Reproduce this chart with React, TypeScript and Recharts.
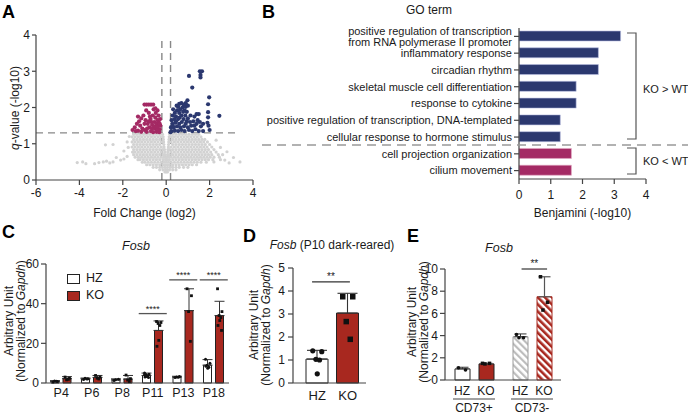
import React from "react";
import {
  ScatterChart,
  Scatter,
  XAxis,
  YAxis,
  ReferenceLine,
  BarChart,
  Bar,
  Cell,
  ComposedChart,
  ErrorBar,
  Legend,
} from "recharts";

const FONT = '"Liberation Sans", Arial, Helvetica, sans-serif';
const INK = "#1a1a1a";
const AXIS = "#444";
const NAVY = "#2b386f";
const MAGENTA = "#a42a64";
const RED = "#a8281f";
const GRAY = "#d2d2d2";

// ---------- A: volcano (fold change log2 vs q-value -log10)
// gray genes, read row by row: [q, fold changes]
const grayRows: [number, number[]][] = [
  [1.26, [-1.5, -1.35, -1.2, -1.05, -0.9, -0.75, -0.6, -0.45, -0.3, -0.17, 0.17, 0.3, 0.45, 0.6, 0.75, 0.9, 1.05, 1.2, 1.35, 1.5]],
  [1.19, [-1.57, -1.43, -1.28, -1.13, -0.98, -0.83, -0.68, -0.53, -0.38, -0.24, -0.14, 0.14, 0.24, 0.38, 0.53, 0.68, 0.83, 0.98, 1.13, 1.28, 1.43, 1.6]],
  [1.12, [-1.5, -1.35, -1.2, -1.05, -0.9, -0.75, -0.6, -0.45, -0.3, -0.13, 0.13, 0.3, 0.45, 0.6, 0.75, 0.9, 1.05, 1.2, 1.35, 1.5, 1.65, 1.78]],
  [1.05, [-1.57, -1.43, -1.28, -1.13, -0.98, -0.83, -0.68, -0.53, -0.38, -0.23, -0.12, 0.12, 0.23, 0.38, 0.53, 0.68, 0.83, 0.98, 1.13, 1.28, 1.43, 1.58, 1.73, 1.9]],
  [0.98, [-1.5, -1.35, -1.2, -1.05, -0.9, -0.75, -0.6, -0.45, -0.3, -0.11, 0.11, 0.3, 0.45, 0.6, 0.75, 0.9, 1.05, 1.2, 1.35, 1.5, 1.65, 1.8, 2.0]],
  [0.91, [-1.57, -1.43, -1.28, -1.13, -0.98, -0.83, -0.68, -0.53, -0.38, -0.23, -0.1, 0.1, 0.23, 0.38, 0.53, 0.68, 0.83, 0.98, 1.13, 1.28, 1.43, 1.58, 1.73, 1.88, 2.1]],
  [0.84, [-1.5, -1.35, -1.2, -1.05, -0.9, -0.75, -0.6, -0.45, -0.3, -0.16, -0.08, 0.08, 0.16, 0.3, 0.45, 0.6, 0.75, 0.9, 1.05, 1.2, 1.35, 1.5, 1.65, 1.8, 1.95, 2.2]],
  [0.77, [-1.55, -1.43, -1.28, -1.13, -0.98, -0.83, -0.68, -0.53, -0.38, -0.23, -0.07, 0.07, 0.23, 0.38, 0.53, 0.68, 0.83, 0.98, 1.13, 1.28, 1.43, 1.58, 1.73, 1.88, 2.05, 2.3]],
  [0.7, [-1.5, -1.35, -1.2, -1.05, -0.9, -0.75, -0.6, -0.45, -0.3, -0.15, -0.06, 0.06, 0.15, 0.3, 0.45, 0.6, 0.75, 0.9, 1.05, 1.2, 1.35, 1.5, 1.65, 1.8, 1.95, 2.1, 2.4]],
  [0.63, [-1.43, -1.28, -1.13, -0.98, -0.83, -0.68, -0.53, -0.38, -0.23, -0.11, -0.04, 0.04, 0.11, 0.23, 0.38, 0.53, 0.68, 0.83, 0.98, 1.13, 1.28, 1.43, 1.58, 1.73, 1.88, 2.03, 2.2, 2.45]],
  [0.56, [-1.3, -1.2, -1.05, -0.9, -0.75, -0.6, -0.45, -0.3, -0.15, -0.03, 0.03, 0.15, 0.3, 0.45, 0.6, 0.75, 0.9, 1.05, 1.2, 1.35, 1.5, 1.65, 1.8, 1.95, 2.15, 2.5]],
  [0.49, [-1.1, -0.98, -0.83, -0.68, -0.53, -0.38, -0.23, -0.1, 0, 0.1, 0.23, 0.38, 0.53, 0.68, 0.83, 0.98, 1.13, 1.28, 1.43, 1.6, 1.85]],
  [0.42, [-0.9, -0.75, -0.6, -0.45, -0.3, -0.15, -0.05, 0.05, 0.15, 0.3, 0.45, 0.6, 0.75, 0.9, 1.05, 1.2, 1.4]],
  [0.35, [-0.6, -0.45, -0.3, -0.18, -0.06, 0.06, 0.18, 0.3, 0.45, 0.6, 0.8, 1.0]],
  [0.28, [-0.3, -0.15, -0.03, 0.03, 0.15, 0.3, 0.45]],
  [0.22, [-0.06, 0, 0.06]],
];
const grayOutliers: [number, number][] = [
  [-4.1, 0.48], [-3.85, 0.5], [-3.7, 0.45], [-3.3, 0.45], [-3.1, 0.48], [-2.9, 0.5], [-2.75, 0.52],
  [-2.6, 0.47], [-2.45, 0.5], [-2.3, 0.62], [-2.1, 0.55], [-1.95, 0.58], [-1.8, 0.65], [-2.8, 0.97],
  [-2.45, 0.98], [-1.8, 1.05], [-1.95, 0.8], [-1.75, 0.9], [-1.7, 1.2], [2.3, 1.1], [2.5, 0.9],
  [2.6, 0.7], [2.8, 0.78], [2.9, 0.47], [3.4, 0.5], [2.2, 0.5], [2.7, 0.55], [3.1, 0.62],
];
const downGenes: [number, number][] = [
  [-1.0, 2.08], [-0.9, 2.08], [-0.8, 2.08], [-0.7, 2.08], [-0.6, 2.08], [-1.3, 1.75], [-1.25, 1.62],
  [-1.55, 1.38], [-1.45, 1.45], [-1.4, 1.35], [-1.2, 1.5], [-1.1, 1.42], [-1.05, 1.78], [-0.95, 1.65],
  [-0.92, 1.92], [-0.85, 1.55], [-0.8, 1.85], [-0.78, 1.45], [-0.72, 1.68], [-0.7, 1.35], [-0.65, 1.52],
  [-0.62, 1.78], [-0.58, 1.95], [-0.55, 1.6], [-0.52, 1.42], [-0.5, 1.72], [-0.48, 1.85], [-0.45, 1.55],
  [-0.42, 1.35], [-0.4, 1.65], [-0.38, 1.48], [-0.35, 1.78], [-0.33, 1.58], [-0.3, 1.4], [-0.28, 1.68],
  [-0.27, 1.5], [-1.3, 1.36], [-1.15, 1.33], [-1.0, 1.38], [-0.9, 1.33], [-0.6, 1.32], [-0.45, 1.33],
  [-0.32, 1.32], [-1.35, 1.55], [-1.0, 1.55], [-0.88, 1.42], [-0.68, 1.6], [-0.55, 1.48], [-0.42, 1.45],
  [-0.36, 1.38], [-0.3, 1.55], [-0.4, 1.92], [-0.5, 1.98], [-0.75, 1.75], [-1.15, 1.7], [-0.65, 1.42],
  [-0.8, 1.62],
];
const upGenes: [number, number][] = [
  [1.55, 3.0], [1.65, 3.0], [1.58, 2.9], [1.58, 2.83], [1.05, 2.87], [1.2, 2.55], [1.98, 2.28],
  [1.93, 2.09], [1.93, 1.87], [1.93, 1.73], [2.45, 1.77], [1.9, 1.58], [1.95, 1.5], [2.0, 1.38],
  [1.4, 1.82], [1.5, 1.82], [1.3, 1.75], [1.25, 1.62], [1.1, 1.6], [0.98, 2.2], [0.9, 2.12],
  [0.6, 2.1], [0.7, 2.12], [0.8, 2.08], [0.55, 2.02], [0.75, 2.0], [0.5, 1.92], [0.65, 1.95],
  [0.85, 1.92], [0.4, 1.85], [0.6, 1.85], [0.95, 1.88], [0.3, 1.78], [0.45, 1.75], [0.7, 1.78],
  [0.88, 1.78], [0.25, 1.65], [0.38, 1.68], [0.55, 1.68], [0.8, 1.68], [1.0, 1.7], [0.28, 1.55],
  [0.42, 1.58], [0.6, 1.55], [0.72, 1.6], [0.9, 1.55], [0.22, 1.45], [0.35, 1.45], [0.5, 1.48],
  [0.65, 1.45], [0.82, 1.48], [1.0, 1.45], [1.15, 1.5], [0.25, 1.35], [0.4, 1.36], [0.55, 1.35],
  [0.7, 1.38], [0.85, 1.35], [1.05, 1.38], [1.2, 1.35], [1.35, 1.4], [1.5, 1.35], [1.3, 1.5],
  [0.32, 1.95], [0.48, 2.05], [0.95, 1.62], [1.12, 1.78], [1.4, 1.55], [1.6, 1.48], [1.7, 1.55],
  [0.62, 1.72], [0.78, 1.88], [0.45, 1.62], [0.3, 1.5], [0.9, 2.02], [1.0, 2.05], [1.45, 1.65],
  [1.55, 1.6], [0.2, 1.32], [1.7, 1.35],
];

// ---------- B: GO terms
const goTerms = [
  "positive regulation of transcription\nfrom RNA polymerase II promoter",
  "inflammatory response",
  "circadian rhythm",
  "skeletal muscle cell differentiation",
  "response to cytokine",
  "positive regulation of transcription, DNA-templated",
  "cellular response to hormone stimulus",
  "cell projection organization",
  "cilium movement",
];
const goScore = [3.2, 2.5, 2.5, 1.8, 1.8, 1.3, 1.3, 1.65, 1.65];
const goUp = [true, true, true, true, true, true, true, false, false];

// ---------- C: Fosb by age
const ages = ["P4", "P6", "P8", "P11", "P13", "P18"];
const cHz = [0.8, 2.1, 1.6, 3.8, 3.0, 9.0];
const cKo = [2.2, 2.8, 2.0, 26.5, 36.5, 34.0];
const cHzSd = [0.4, 0.4, 0.5, 1.2, 0.4, 2.8];
const cKoSd = [1.0, 1.0, 1.8, 4.8, 11.0, 7.2];
const cHzPts = [[0.5, 0.8, 1.0, 0.9], [1.8, 2.2, 2.4, 2.0], [1.2, 1.9, 1.6], [5.0, 4.4, 4.0, 3.6, 3.3, 3.0, 2.8, 4.2], [2.8, 3.3, 3.0, 2.9], [12.0, 10.0, 9.0, 8.0, 7.5, 8.5]];
const cKoPts = [[3.0, 2.5, 1.6, 1.8], [3.8, 3.0, 2.4, 2.0], [4.0, 2.2, 1.5, 0.8], [31.0, 30.5, 30.0, 29.0, 21.5, 18.5], [47.5, 44.0, 36.0, 21.0], [47.5, 36.0, 34.0, 33.0, 31.5, 29.0, 26.5]];

// ---------- D: Fosb P10 dark-reared
const dGenotypes = ["HZ", "KO"];
const dMean = [1.04, 3.04];
const dSd = [0.38, 0.86];
const dPts = [[1.4, 1.36, 1.03, 1.0, 0.4], [3.75, 3.75, 2.67, 1.9]];

// ---------- E: Fosb by CD73 sort
const eGroups = ["CD73+", "CD73-"];
const eHz = [1.0, 3.9];
const eKo = [1.45, 7.5];
const eHzSd = [0.15, 0.25];
const eKoSd = [0.05, 1.8];
const eHzPts = [[1.1, 0.9], [4.1, 3.8, 3.8]];
const eKoPts = [[1.5, 1.5, 1.45], [9.3, 7.0, 6.3]];

const tickStyle = { fontSize: 12, fill: INK };
const lineStyle = { stroke: AXIS, strokeWidth: 1.2 };
const ZIG = [-1, 1, -0.3, 0.5, 0, -0.8, 0.8];

const dot = (r: number, fill: string) => (p: any) =>
  p.cx == null ? <g /> : <circle cx={p.cx} cy={p.cy} r={r} fill={fill} />;
const square = (s: number, fill: string) => (p: any) =>
  p.cx == null ? <g /> : <rect x={p.cx - s / 2} y={p.cy - s / 2} width={s} height={s} fill={fill} />;

function spread(groups: number[][], center: (i: number) => number, pxPerUnit: number, halfPx: number) {
  return groups.flatMap((vals, i) =>
    vals.map((y, k) => ({ x: center(i) + (ZIG[k % ZIG.length] * halfPx) / pxPerUnit, y }))
  );
}

const volcanoGray = [
  ...grayRows.flatMap(([q, fcs]) => fcs.map((fc) => ({ fc, q }))),
  ...grayOutliers.map(([fc, q]) => ({ fc, q })),
];
const volcanoDown = downGenes.map(([fc, q]) => ({ fc, q }));
const volcanoUp = upGenes.map(([fc, q]) => ({ fc, q }));

function Volcano() {
  return (
    <ScatterChart width={262} height={225} margin={{ top: 35, right: 9, bottom: 0, left: 0 }}>
      <XAxis
        type="number"
        dataKey="fc"
        domain={[-6, 4]}
        ticks={[-6, -4, -2, 0, 2, 4]}
        height={45}
        tick={tickStyle}
        tickSize={5}
        tickMargin={3}
        axisLine={lineStyle}
        tickLine={lineStyle}
        label={{ value: "Fold Change (log2)", position: "insideBottom", offset: 8, style: { fontSize: 12, fill: INK } }}
      />
      <YAxis
        type="number"
        dataKey="q"
        domain={[0, 4]}
        ticks={[0, 1, 2, 3, 4]}
        width={36}
        tick={tickStyle}
        tickSize={4}
        tickMargin={2}
        axisLine={lineStyle}
        tickLine={lineStyle}
      />
      <Scatter data={volcanoGray} shape={dot(1.6, GRAY)} isAnimationActive={false} />
      <ReferenceLine segment={[{ x: -6, y: 1.3 }, { x: 3.4, y: 1.3 }]} stroke="#888" strokeWidth={1.4} strokeDasharray="7 5" />
      <ReferenceLine segment={[{ x: -0.2, y: 0 }, { x: -0.2, y: 3.85 }]} stroke="#888" strokeWidth={1.4} strokeDasharray="7 5" />
      <ReferenceLine segment={[{ x: 0.2, y: 0 }, { x: 0.2, y: 3.85 }]} stroke="#888" strokeWidth={1.4} strokeDasharray="7 5" />
      <Scatter data={volcanoDown} shape={dot(2.1, MAGENTA)} isAnimationActive={false} />
      <Scatter data={volcanoUp} shape={dot(2.1, NAVY)} isAnimationActive={false} />
    </ScatterChart>
  );
}

const goRows = goTerms.map((term, i) => ({ term, score: goScore[i], up: goUp[i] }));

const GoTick = (props: any) => {
  const { x, y, payload } = props;
  const lines = String(payload.value).split("\n");
  return (
    <text x={x} y={y} textAnchor="end" fontSize={11} fill={INK}>
      {lines.map((l, i) => (
        <tspan key={i} x={x} dy={i === 0 ? `${0.35 - (lines.length - 1) * 0.5}em` : "1em"}>
          {l}
        </tspan>
      ))}
    </text>
  );
};

function GoChart() {
  return (
    <BarChart layout="vertical" width={448} height={225} data={goRows} margin={{ top: 28, right: 42, bottom: 0, left: 0 }} barSize={10}>
      <XAxis
        type="number"
        domain={[0, 4]}
        ticks={[0, 1, 2, 3, 4]}
        height={46}
        tick={tickStyle}
        tickSize={5}
        tickMargin={6}
        axisLine={lineStyle}
        tickLine={lineStyle}
        label={{ value: "Benjamini (-log10)", position: "insideBottom", offset: 8, style: { fontSize: 12, fill: INK } }}
      />
      <YAxis
        type="category"
        dataKey="term"
        width={279}
        interval={0}
        tick={<GoTick />}
        tickSize={5}
        tickMargin={2}
        axisLine={lineStyle}
        tickLine={lineStyle}
      />
      <Bar dataKey="score" isAnimationActive={false} stroke="#b9bde0" strokeWidth={0.6}>
        {goRows.map((r, i) => (
          <Cell key={i} fill={r.up ? NAVY : MAGENTA} stroke={r.up ? "#b9bde0" : "#e2a9c2"} />
        ))}
      </Bar>
    </BarChart>
  );
}

// C layout: 6 bands of 30.5 px, bars 8 px with 4 px gap
const C_BAND = 30.5;
const C_SHIFT = 6;
const cRows = ages.map((age, i) => ({ age, hz: cHz[i], ko: cKo[i], hzE: [0, cHzSd[i]], koE: [0, cKoSd[i]] }));
const cHzDots = spread(cHzPts, (i) => i + 0.5 - C_SHIFT / C_BAND, C_BAND, 2.2);
const cKoDots = spread(cKoPts, (i) => i + 0.5 + C_SHIFT / C_BAND, C_BAND, 2.2);

const CLegend = () => (
  <div style={{ fontSize: 12.5, color: INK, lineHeight: "17px" }}>
    {[["HZ", "#fff"], ["KO", RED]].map(([n, c]) => (
      <div key={n} style={{ display: "flex", alignItems: "center" }}>
        <span style={{ display: "inline-block", width: 11, height: 8, background: c, border: "1px solid #222", marginRight: 6 }} />
        {n}
      </div>
    ))}
  </div>
);

function AgeChart() {
  const sig = (a: number, y: number) => (
    <ReferenceLine
      xAxisId="n"
      segment={[{ x: a + 0.04, y }, { x: a + 0.96, y }]}
      stroke="#555"
      strokeWidth={1.3}
      label={{ value: "****", position: "top", offset: 2, style: { fontSize: 9, fill: INK } }}
    />
  );
  return (
    <ComposedChart width={232} height={194} data={cRows} margin={{ top: 44, right: 3, bottom: 0, left: 0 }} barSize={8} barGap={4}>
      <XAxis xAxisId="c" dataKey="age" height={31} tick={{ ...tickStyle, fontSize: 12.5 }} tickSize={0} tickMargin={5} axisLine={lineStyle} />
      <XAxis xAxisId="n" type="number" dataKey="x" domain={[0, 6]} hide allowDataOverflow />
      <YAxis domain={[0, 60]} ticks={[0, 20, 40, 60]} width={46} tick={tickStyle} tickSize={5} tickMargin={2} axisLine={lineStyle} tickLine={lineStyle} />
      <Bar xAxisId="c" dataKey="hz" fill="#fff" stroke="#222" strokeWidth={1} isAnimationActive={false}>
        <ErrorBar dataKey="hzE" width={5} stroke="#333" strokeWidth={1} direction="y" />
      </Bar>
      <Bar xAxisId="c" dataKey="ko" fill={RED} stroke="#222" strokeWidth={1} isAnimationActive={false}>
        <ErrorBar dataKey="koE" width={5} stroke="#333" strokeWidth={1} direction="y" />
      </Bar>
      <Scatter xAxisId="n" data={cHzDots} dataKey="y" shape={dot(1.5, "#111")} isAnimationActive={false} />
      <Scatter xAxisId="n" data={cKoDots} dataKey="y" shape={square(2.8, "#111")} isAnimationActive={false} />
      {sig(3, 35)}
      {sig(4, 52)}
      {sig(5, 52)}
      <Legend layout="vertical" align="center" verticalAlign="middle" content={<CLegend />} wrapperStyle={{ left: 67, top: 50, width: 60 }} />
    </ComposedChart>
  );
}

// D layout: axis 293..366, padding 9/3 -> bands of 30.5 px
const D_BAND = 30.5;
const dRows = dGenotypes.map((g, i) => ({ g, m: dMean[i], e: [0, dSd[i]] }));
const dHzDots = spread([dPts[0]], () => 0.5, D_BAND, 4.5);
const dKoDots = spread([dPts[1]], () => 1.5, D_BAND, 5);

function DarkChart() {
  return (
    <ComposedChart width={134} height={194} data={dRows} margin={{ top: 48, right: 4, bottom: 0, left: 0 }} barSize={22}>
      <XAxis xAxisId="c" dataKey="g" height={31} padding={{ left: 9, right: 3 }} tick={{ ...tickStyle, fontSize: 13 }} tickSize={0} tickMargin={8} axisLine={lineStyle} />
      <XAxis xAxisId="n" type="number" dataKey="x" domain={[0, 2]} padding={{ left: 9, right: 3 }} hide allowDataOverflow />
      <YAxis domain={[0, 5]} ticks={[0, 1, 2, 3, 4, 5]} width={57} tick={tickStyle} tickSize={5} tickMargin={3} axisLine={lineStyle} tickLine={lineStyle} />
      <Bar xAxisId="c" dataKey="m" stroke="#222" strokeWidth={1} isAnimationActive={false}>
        {dRows.map((r, i) => (
          <Cell key={i} fill={i === 0 ? "#fff" : RED} />
        ))}
        <ErrorBar dataKey="e" width={10} stroke="#333" strokeWidth={1.1} direction="y" />
      </Bar>
      <Scatter xAxisId="n" data={dHzDots} dataKey="y" shape={dot(2.6, "#111")} isAnimationActive={false} />
      <Scatter xAxisId="n" data={dKoDots} dataKey="y" shape={square(5.5, "#111")} isAnimationActive={false} />
      <ReferenceLine
        xAxisId="n"
        segment={[{ x: 0.33, y: 4.4 }, { x: 1.57, y: 4.4 }]}
        stroke="#333"
        strokeWidth={1.3}
        label={{ value: "**", position: "top", offset: 2, style: { fontSize: 10, fill: INK } }}
      />
    </ComposedChart>
  );
}

// E layout: axis 445..561 -> 2 bands of 58 px, bars 15 px, 9 px gap
const E_BAND = 58;
const E_SHIFT = 12;
const eRows = eGroups.map((g, i) => ({ g, hz: eHz[i], ko: eKo[i], hzE: [0, eHzSd[i]], koE: [0, eKoSd[i]] }));
const eHzDots = spread(eHzPts, (i) => i + 0.5 - E_SHIFT / E_BAND, E_BAND, 3.5);
const eKoDots = spread(eKoPts, (i) => i + 0.5 + E_SHIFT / E_BAND, E_BAND, 3.5);

const ETick = (props: any) => {
  const { x, y, payload } = props;
  return (
    <g fill={INK} fontSize={12}>
      <text x={x - E_SHIFT} y={y + 15} textAnchor="middle">HZ</text>
      <text x={x + E_SHIFT} y={y + 15} textAnchor="middle">KO</text>
      <line x1={x - 21} x2={x + 21} y1={y + 19} y2={y + 19} stroke="#444" strokeWidth={1} />
      <text x={x} y={y + 32} textAnchor="middle">{payload.value}</text>
    </g>
  );
};

function SortChart() {
  return (
    <ComposedChart width={170} height={194} data={eRows} margin={{ top: 49, right: 4, bottom: 0, left: 0 }} barSize={15} barGap={9}>
      <XAxis xAxisId="c" dataKey="g" height={34} tick={<ETick />} tickSize={0} tickMargin={0} axisLine={lineStyle} />
      <XAxis xAxisId="n" type="number" dataKey="x" domain={[0, 2]} hide allowDataOverflow />
      <YAxis domain={[0, 10]} ticks={[0, 2, 4, 6, 8, 10]} width={50} tick={tickStyle} tickSize={5} tickMargin={2} axisLine={lineStyle} tickLine={lineStyle} />
      <Bar xAxisId="c" dataKey="hz" strokeWidth={1} isAnimationActive={false}>
        {eRows.map((r, i) => (
          <Cell key={i} fill={i === 0 ? "#fff" : "url(#hatchGray)"} stroke={i === 0 ? "#222" : "#9a9a9a"} />
        ))}
        <ErrorBar dataKey="hzE" width={6} stroke="#333" strokeWidth={1} direction="y" />
      </Bar>
      <Bar xAxisId="c" dataKey="ko" strokeWidth={1} isAnimationActive={false}>
        {eRows.map((r, i) => (
          <Cell key={i} fill={i === 0 ? RED : "url(#hatchRed)"} stroke={i === 0 ? "#222" : RED} />
        ))}
        <ErrorBar dataKey="koE" width={6} stroke="#555" strokeWidth={1.2} direction="y" />
      </Bar>
      <Scatter xAxisId="n" data={eHzDots} dataKey="y" shape={dot(1.8, "#111")} isAnimationActive={false} />
      <Scatter xAxisId="n" data={eKoDots} dataKey="y" shape={square(3.5, "#111")} isAnimationActive={false} />
      <ReferenceLine
        xAxisId="n"
        segment={[{ x: 1.32, y: 10 }, { x: 1.76, y: 10 }]}
        stroke="#333"
        strokeWidth={1.2}
        ifOverflow="visible"
        label={{ value: "**", position: "top", offset: 2, style: { fontSize: 10, fill: INK } }}
      />
    </ComposedChart>
  );
}

const YTitle = ({ x, y, children }: { x: number; y: number; children: React.ReactNode }) => (
  <text transform={`translate(${x},${y}) rotate(-90)`} textAnchor="middle" fontSize={12} fill={INK}>
    {children}
  </text>
);

function Overlay() {
  return (
    <svg width={688} height={414} style={{ position: "absolute", left: 0, top: 0, pointerEvents: "none" }}>
      <defs>
        <pattern id="hatchRed" width="5" height="5" patternUnits="userSpaceOnUse" patternTransform="rotate(-45)">
          <rect width="5" height="5" fill="#fff" />
          <rect width="2.6" height="5" fill={RED} />
        </pattern>
        <pattern id="hatchGray" width="5" height="5" patternUnits="userSpaceOnUse" patternTransform="rotate(-45)">
          <rect width="5" height="5" fill="#fff" />
          <rect width="2.2" height="5" fill="#bdbdbd" />
        </pattern>
      </defs>
      <g fontSize={18} fontWeight="bold" fill="#000">
        <text x={2} y={18}>A</text>
        <text x={262} y={18}>B</text>
        <text x={2} y={238}>C</text>
        <text x={243} y={242}>D</text>
        <text x={407} y={242}>E</text>
      </g>
      <text x={429} y={14} textAnchor="middle" fontSize={12} fill={INK}>GO term</text>
      <YTitle x={18.5} y={108}>
        <tspan fontStyle="italic">q</tspan>-value (-log10)
      </YTitle>
      <line x1={262} x2={688} y1={145} y2={145} stroke="#999" strokeWidth={1.5} strokeDasharray="9 6" />
      <path d="M627 33 H636 V139 H627" fill="none" stroke="#555" strokeWidth={1.2} />
      <path d="M627 148 H636 V174 H627" fill="none" stroke="#555" strokeWidth={1.2} />
      <text x={643} y={93} fontSize={11} fill={INK}>KO &gt; WT</text>
      <text x={643} y={165} fontSize={11} fill={INK}>KO &lt; WT</text>

      <text x={136} y={250} textAnchor="middle" fontSize={12.5} fontStyle="italic" fill={INK}>Fosb</text>
      <text x={332} y={249} textAnchor="middle" fontSize={12} fill={INK}>
        <tspan fontStyle="italic">Fosb</tspan> (P10 dark-reared)
      </text>
      <text x={499} y={252} textAnchor="middle" fontSize={12.5} fontStyle="italic" fill={INK}>Fosb</text>

      <YTitle x={12.5} y={321}>Arbitrary Unit</YTitle>
      <YTitle x={24.5} y={321}>
        (Normalized to <tspan fontStyle="italic">Gapdh</tspan>)
      </YTitle>
      <YTitle x={257.5} y={325}>Arbitrary Unit</YTitle>
      <YTitle x={270} y={325}>
        (Normalized to <tspan fontStyle="italic">Gapdh</tspan>)
      </YTitle>
      <YTitle x={416} y={322}>Arbitrary Unit</YTitle>
      <YTitle x={427.5} y={322}>
        (Normalized to <tspan fontStyle="italic">Gapdh</tspan>)
      </YTitle>
    </svg>
  );
}

export default function App() {
  const at = (left: number, top: number): React.CSSProperties => ({ position: "absolute", left, top });
  return (
    <div style={{ position: "absolute", left: 0, top: 0, width: 688, height: 414, background: "#fff", fontFamily: FONT, overflow: "hidden" }}>
      <div style={at(0, 0)}>
        <Volcano />
      </div>
      <div style={at(240, 0)}>
        <GoChart />
      </div>
      <div style={at(0, 220)}>
        <AgeChart />
      </div>
      <div style={at(236, 220)}>
        <DarkChart />
      </div>
      <div style={at(395, 220)}>
        <SortChart />
      </div>
      <Overlay />
    </div>
  );
}
